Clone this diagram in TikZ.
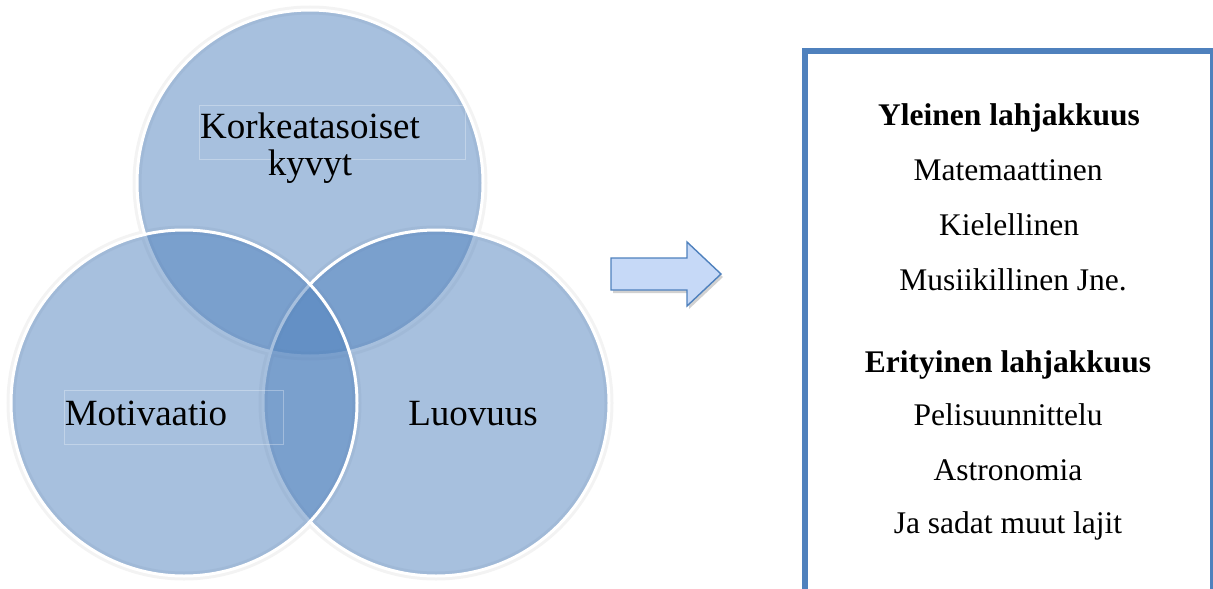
\documentclass[tikz,border=0pt]{standalone}
\usepackage{fontspec}
\setmainfont{Liberation Serif}
\definecolor{vblue}{RGB}{79,129,189}
\definecolor{arrowfill}{RGB}{198,217,247}
\definecolor{glow}{RGB}{243,243,243}
\tikzset{
  venn/.style={circle, inner sep=0pt, minimum size=346pt, fill=vblue, fill opacity=0.5, draw=white, draw opacity=1, line width=3pt},
  glowring/.style={circle, inner sep=0pt, minimum size=346pt, draw=glow, line width=9pt},
  lbl/.style={font=\fontsize{37}{37}\selectfont, inner sep=0pt, anchor=base, text=black},
  lblframe/.style={draw=white, draw opacity=0.3, line width=0.6pt},
  boxtxt/.style={font=\fontsize{31.5}{31.5}\selectfont, inner sep=0pt, anchor=base, text=black},
  panelbox/.style={draw=vblue, line width=6pt, inner sep=0pt, anchor=north west, minimum width=408pt, minimum height=580pt},
  blockarrow/.style={fill=arrowfill, draw=vblue, line width=1.4pt, line join=miter}
}
\begin{document}
\begin{tikzpicture}[x=1pt,y=-1pt]
\useasboundingbox (0,0) rectangle (1213,589);
\clip (0,0) rectangle (1213,589);
% glows
\node[glowring] (gt) at (310,183) {};
\node[glowring] (gl) at (184,403) {};
\node[glowring] (gr) at (436,403) {};
% circles
\node[venn] (top) at (310,183) {};
\node[venn] (right) at (436,403) {};
\node[venn] (left) at (184,403) {};
% faint label frames
\draw[lblframe] (199,105) rectangle (465,159);
\draw[lblframe] (64,390) rectangle (283,444);
% labels
\node[lbl] (k1) at (310,138) {Korkeatasoiset};
\node[lbl] (k2) at (310,175) {kyvyt};
\node[lbl] (mot) at (146,425) {Motivaatio};
\node[lbl] (luo) at (473,425) {Luovuus};
% arrow shadow and arrow
\fill[black, opacity=0.18] (613,261) -- (689,261) -- (689,245) -- (723,277) -- (689,309) -- (689,293) -- (613,293) -- cycle;
\draw[blockarrow] (611,258) -- (687,258) -- (687,242) -- (721,274) -- (687,306) -- (687,290) -- (611,290) -- cycle;
% panel
\node[panelbox] (panel) at (802,48) {};
\node[boxtxt] (t1) at (1009,125) {\textbf{Yleinen lahjakkuus}};
\node[boxtxt] (t2) at (1008,180) {Matemaattinen};
\node[boxtxt] (t3) at (1009,235) {Kielellinen};
\node[boxtxt] (t4) at (1013,290) {Musiikillinen Jne.};
\node[boxtxt] (t5) at (1008,372) {\textbf{Erityinen lahjakkuus}};
\node[boxtxt] (t6) at (1008,425) {Pelisuunnittelu};
\node[boxtxt] (t7) at (1008,480) {Astronomia};
\node[boxtxt] (t8) at (1008,533) {Ja sadat muut lajit};
\end{tikzpicture}
\end{document}
